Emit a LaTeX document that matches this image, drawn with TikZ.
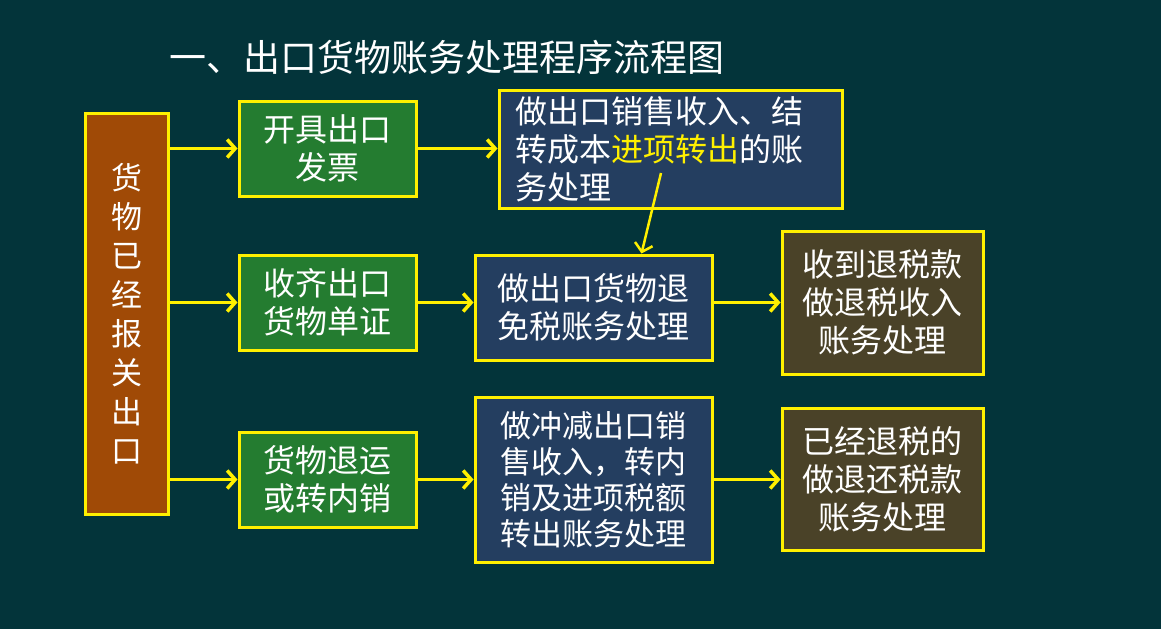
\documentclass[tikz,border=0pt]{standalone}
\usepackage{fontspec}
\setmainfont{Noto Sans CJK SC}
\usetikzlibrary{arrows.meta,positioning}
\definecolor{flowBg}{HTML}{03343A}
\definecolor{flowLine}{HTML}{FFF000}
\definecolor{flowBrownFill}{HTML}{A04A06}
\definecolor{flowGreenFill}{HTML}{247C30}
\definecolor{flowBlueFill}{HTML}{243E60}
\definecolor{flowOliveFill}{HTML}{4A4228}
\tikzset{
  flow/base/.style={draw=flowLine, line width=3pt, text=white, align=center,
    font=\fontsize{32}{38}\selectfont, inner sep=0pt},
  flow/source/.style={flow/base, fill=flowBrownFill, minimum width=83pt,
    minimum height=401pt, font=\fontsize{31}{39}\selectfont},
  flow/step/.style={flow/base, fill=flowGreenFill, minimum width=177pt,
    minimum height=95pt},
  flow/entry/.style={flow/base, fill=flowBlueFill, minimum width=237pt},
  flow/result/.style={flow/base, fill=flowOliveFill, minimum width=201pt,
    minimum height=142pt},
  flow/arrow/.style={-{Straight Barb[length=8pt,width=18pt]}, draw=flowLine,
    line width=3.5pt},
  flow/title/.style={font=\fontsize{37}{40}\selectfont, text=white},
}

\begin{document}
\begin{tikzpicture}[x=1pt, y=-1pt,
    source/.style={flow/source},
    stepbox/.style={flow/step},
    entry/.style={flow/entry},
    result/.style={flow/result},
    arrow/.style={flow/arrow},
]
\fill[flowBg] (0,0) rectangle (1161,629);

\node[flow/title] (title) at (447,57) {一、出口货物账务处理程序流程图};

% left column and the three starting steps
\node[source] (goods) at (126.5,313.5) {货\\物\\已\\经\\报\\关\\出\\口};
\node[stepbox] (invoice) at (327.5,148.5) {开具出口\\发票};
\node[stepbox] (docs) at (327.5,302.5) {收齐出口\\货物单证};
\node[stepbox] (returned) at (327.5,479.5) {货物退运\\或转内销};

% accounting entries
\node[entry, minimum width=343pt, minimum height=118pt, align=left,
    text width=311pt] (sale) at (670.5,149)
    {做出口销售收入、结\\转成本\textcolor{flowLine}{进项转出}的账\\务处理};
\node[entry, minimum height=105pt] (refund) at (593.5,307.5)
    {做出口货物退\\免税账务处理};
\node[entry, minimum height=165pt, font=\fontsize{31}{36}\selectfont]
    (offset) at (593.5,479.5)
    {做冲减出口销\\售收入，转内\\销及进项税额\\转出账务处理};
\node[result, minimum height=143pt] (received) at (882.5,302.5)
    {收到退税款\\做退税收入\\账务处理};
\node[result] (repaid) at (882.5,479.5)
    {已经退税的\\做退还税款\\账务处理};

\coordinate (saleOut) at (661,173);

\draw[arrow] (goods.east |- invoice) -- (invoice.west);
\draw[arrow] (goods.east |- docs) -- (docs.west);
\draw[arrow] (goods.east |- returned) -- (returned.west);
\draw[arrow] (invoice.east) -- (sale.west |- invoice);
\draw[arrow] (docs.east) -- (refund.west |- docs);
\draw[arrow] (returned.east) -- (offset.west);
\draw[arrow] (refund.east |- docs) -- (received.west);
\draw[arrow] (offset.east) -- (repaid.west);
\draw[arrow, line width=2.5pt] (saleOut) -- ([xshift=48pt]refund.north);
\end{tikzpicture}
\end{document}
